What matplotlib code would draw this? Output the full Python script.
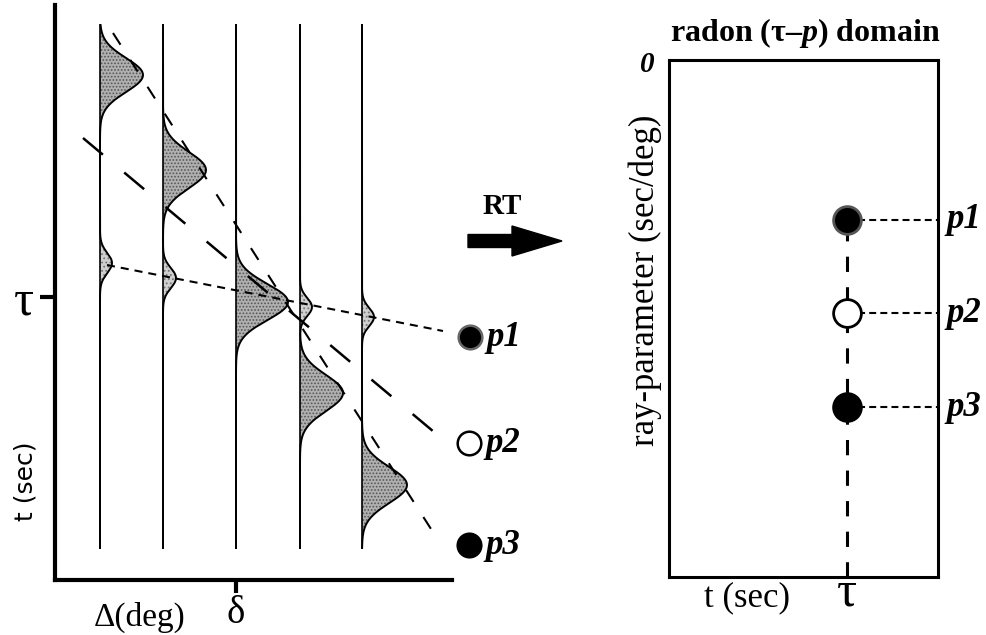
import numpy as np
import matplotlib
matplotlib.use('Agg')
import matplotlib.pyplot as plt
from matplotlib.patches import FancyArrow

plt.rcParams['font.family'] = ['Liberation Serif', 'DejaVu Serif']
plt.rcParams['mathtext.fontset'] = 'custom'
plt.rcParams['mathtext.it'] = 'Liberation Serif:italic:bold'
plt.rcParams['lines.scale_dashes'] = False
plt.rcParams['hatch.linewidth'] = 0.8

# ---- left panel: offset-time gather (units: Δ, t) ----
offsets = [45, 108, 181, 245, 307]          # trace positions Δ
trace_top, trace_bot = 20, 543
big_t = [70, 165, 297, 388, 480]            # steep event (p3) arrivals
big_amp = [43, 43, 52, 43, 45]
big_w = [17, 18, 18, 18, 18]
small_t = [258, 273, 297, 302, 312]         # shallow event (p1) arrivals
small_amp = [12, 13, 0, 12, 12]
small_w = [10, 10, 10, 9, 9]

tau_t = 292                                 # intercept time τ
delta_x = 181                               # reference offset δ

# slant lines (start/end Δ and t) for p1, p2, p3
line_x = [[52, 388], [28, 385], [58, 385]]
line_t = [[260, 326], [133, 432], [28, 538]]
line_dash = [(5.8, 4.3), (18.7, 20), (10, 13)]
line_lw = [1.5, 1.8, 1.5]
circ_x = [415, 414, 414]
circ_t = [332, 438, 540]
labels = ['p1', 'p2', 'p3']

# ---- right panel: radon domain (units: t, p) ----
r_tau = 178
r_p = [160, 253, 347]
r_face = ['black', 'white', 'black']
r_edge = ['#555555', 'black', 'black']
l_face = ['black', 'white', 'black']
l_edge = ['#666666', 'black', 'black']

W, H = 987, 635
fig = plt.figure(figsize=(W / 100, H / 100), dpi=100)


def box(x0, y0, x1, y1):
    return [x0 / W, 1 - y1 / H, (x1 - x0) / W, (y1 - y0) / H]


ax = fig.add_axes(box(55, 5, 452, 580))
ax.set_xlim(0, 397)
ax.set_ylim(575, 0)
for s in ['top', 'right']:
    ax.spines[s].set_visible(False)
for s in ['left', 'bottom']:
    ax.spines[s].set_linewidth(3)
ax.set_yticks([tau_t])
ax.set_yticklabels(['τ'], fontsize=36)
ax.set_xticks([delta_x])
ax.set_xticklabels(['δ'], fontsize=28)
ax.tick_params(axis='y', length=11, width=3, pad=4)
ax.tick_params(axis='x', length=9, width=3, pad=2)

t = np.linspace(trace_top, trace_bot, 1500)
for i, x0 in enumerate(offsets):
    big = big_amp[i] * np.exp(-0.5 * ((t - big_t[i]) / big_w[i]) ** 2)
    small = small_amp[i] * np.exp(-0.5 * ((t - small_t[i]) / small_w[i]) ** 2)
    ax.fill_betweenx(t, x0, x0 + big, where=big > 0.3, facecolor='#b0b0b0',
                     edgecolor='#555555', hatch='.....', lw=0)
    ax.fill_betweenx(t, x0, x0 + small, where=small > 0.3, facecolor='#cfcfcf',
                     edgecolor='#777777', hatch='....', lw=0)
    ax.plot(x0 + big + small, t, color='black', lw=1.4)
    ax.plot([x0, x0], [trace_top, trace_bot], color='black', lw=1.2)

for k in range(3):
    ax.plot(line_x[k], line_t[k], color='black', lw=line_lw[k],
            dashes=line_dash[k], clip_on=False)
    ax.plot(circ_x[k], circ_t[k], 'o', ms=17, mfc=l_face[k], mec=l_edge[k],
            mew=1.8, clip_on=False)
    ax.text(circ_x[k] + 16, circ_t[k], labels[k], fontsize=25, fontweight='bold',
            fontstyle='italic', ha='left', va='center')

ax.text(85, 612, 'Δ(deg)', fontsize=24, ha='center', va='center')
ax.text(-30, 476, 't (sec)', fontsize=18, family='DejaVu Sans', rotation=90,
        ha='center', va='center')

# RT arrow between panels
ax.add_patch(FancyArrow(413, 236, 94, 0, width=13, head_width=30, head_length=50,
                        length_includes_head=True, color='black', clip_on=False))
ax.text(447, 201, 'RT', fontsize=21, fontweight='bold', ha='center', va='center')

# ---- right panel ----
rx = fig.add_axes(box(669, 60, 938, 577))
rx.set_xlim(0, 269)
rx.set_ylim(517, 0)
for s in rx.spines.values():
    s.set_linewidth(2.2)
rx.set_xticks([r_tau])
rx.set_xticklabels(['τ'], fontsize=36)
rx.tick_params(axis='x', length=0, pad=-5)
rx.set_yticks([])

rx.plot([r_tau, r_tau], [517, r_p[0]], color='black', lw=2.2, dashes=(11, 11))
for k in range(3):
    rx.plot([r_tau, 269], [r_p[k], r_p[k]], color='black', lw=1.5, dashes=(5, 3))
    rx.plot(r_tau, r_p[k], 'o', ms=20, mfc=r_face[k], mec=r_edge[k], mew=2,
            zorder=5)
    rx.text(277, r_p[k], labels[k], fontsize=25, fontweight='bold',
            fontstyle='italic', ha='left', va='center')

rx.text(-22, 4, '0', fontsize=21, fontweight='bold', fontstyle='italic',
        ha='center', va='center')
rx.text(136, -27, 'radon (τ–$p$) domain', fontsize=23, fontweight='bold',
        ha='center', va='center')
rx.text(-24, 220, 'ray-parameter (sec/deg)', fontsize=25, rotation=90,
        ha='center', va='center')
rx.text(78, 538, 't (sec)', fontsize=25, ha='center', va='center')

fig.savefig('out.png', dpi=100)
